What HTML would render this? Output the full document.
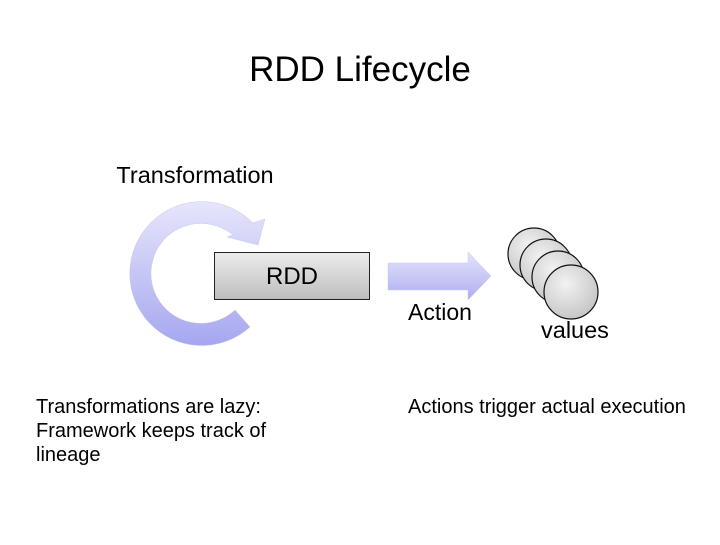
<!DOCTYPE html>
<html><head><style>
body{margin:0;background:#fff;width:720px;height:540px;overflow:hidden;font-family:"Liberation Sans",sans-serif}
</style></head><body>
<svg width="720" height="540" xmlns="http://www.w3.org/2000/svg" font-family="Liberation Sans, sans-serif">
<defs>
<linearGradient id="ag" x1="0" y1="0" x2="0" y2="1"><stop offset="0" stop-color="#e4e4fb"/><stop offset="1" stop-color="#aeaef2"/></linearGradient>
<linearGradient id="cg" x1="0" y1="0" x2="0" y2="1"><stop offset="0" stop-color="#e6e6fb"/><stop offset="1" stop-color="#a6a6f0"/></linearGradient>
<linearGradient id="bg" x1="0" y1="0" x2="0" y2="1"><stop offset="0" stop-color="#ececec"/><stop offset="1" stop-color="#bdbdbd"/></linearGradient>
<radialGradient id="sg" cx="0.4" cy="0.35" r="0.7"><stop offset="0" stop-color="#f2f2f2"/><stop offset="1" stop-color="#c4c4c4"/></radialGradient>
</defs>
<text x="360" y="81" font-size="35" text-anchor="middle">RDD Lifecycle</text>
<text x="195" y="183" font-size="23.5" text-anchor="middle">Transformation</text>
<!-- circular arrow -->
<path d="M250,327 A72,72 0 1 1 253,223 L265,219 L258,245 L227,237 L233,235 A50,50 0 1 0 235,310 Z" fill="url(#cg)" stroke="#c8c8f0" stroke-width="0.5"/>
<rect x="214.5" y="252.5" width="155" height="47" fill="url(#bg)" stroke="#222" stroke-width="1"/>
<text x="292" y="284" font-size="24" text-anchor="middle">RDD</text>
<!-- action arrow -->
<path d="M388,263 L468,263 L468,252 L491,276 L468,300 L468,290 L388,290 Z" fill="url(#ag)" stroke="#c8c8f0" stroke-width="0.5"/>
<text x="408" y="320" font-size="23">Action</text>
<g stroke="#111" stroke-width="1.2" fill="url(#sg)">
<circle cx="534" cy="254" r="26"/>
<circle cx="546" cy="265" r="26"/>
<circle cx="558" cy="277" r="26"/>
<circle cx="571" cy="292" r="27"/>
</g>
<text x="541" y="338" font-size="23.5">values</text>
<g font-size="20">
<text x="36" y="413">Transformations are lazy:</text>
<text x="36" y="437">Framework keeps track of</text>
<text x="36" y="461">lineage</text>
<text x="408" y="413">Actions trigger actual execution</text>
</g>
</svg>
</body></html>
